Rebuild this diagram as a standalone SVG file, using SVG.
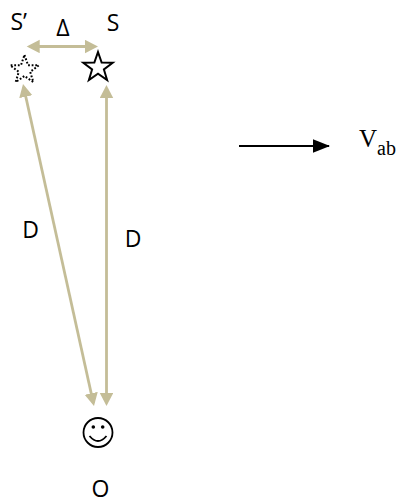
<svg xmlns="http://www.w3.org/2000/svg" width="405" height="501" viewBox="0 0 405 501">
<style>
.lbl{font-family:"Open Sans","Noto Sans","DejaVu Sans",sans-serif;font-size:23px;fill:#000}
.tm{font-family:"Liberation Serif","Times New Roman",serif;fill:#000}
.tan{stroke:#C4BD97;stroke-width:2.8;fill:none}
</style>
<defs>
<marker id="tanHead" markerUnits="userSpaceOnUse" markerWidth="14" markerHeight="14" refX="10" refY="6.7" orient="auto-start-reverse" viewBox="0 0 14 14">
<path d="M0,0 L13,6.7 L0,13.4 z" fill="#C4BD97"/>
</marker>
<marker id="blkHead" markerUnits="userSpaceOnUse" markerWidth="18" markerHeight="14" refX="16" refY="6.7" orient="auto" viewBox="0 0 18 14">
<path d="M0,0 L17,6.7 L0,13.4 z" fill="#000"/>
</marker>
</defs>
<rect width="405" height="501" fill="#fff"/>
<g id="connectors">
<line class="tan" x1="29.7" y1="46.5" x2="95" y2="46.5" marker-start="url(#tanHead)" marker-end="url(#tanHead)"/>
<line class="tan" x1="23.65" y1="86.93" x2="93.35" y2="403.07" marker-start="url(#tanHead)" marker-end="url(#tanHead)"/>
<line class="tan" x1="106.5" y1="88" x2="106.5" y2="403" marker-start="url(#tanHead)" marker-end="url(#tanHead)"/>
<line x1="239" y1="146" x2="329" y2="146" stroke="#000" stroke-width="2" marker-end="url(#blkHead)"/>
</g>
<g id="star-s-prime">
<polygon points="24.5,55 28.03,65.15 38.77,65.36 30.21,71.85 33.32,82.14 24.5,76 15.68,82.14 18.79,71.85 10.23,65.36 20.97,65.15" fill="none" stroke="#000" stroke-width="2" stroke-dasharray="1.8 1.8"/>
<text class="lbl" x="10.5" y="30">S’</text>
</g>
<g id="delta-label">
<text class="lbl" x="63" y="36" text-anchor="middle">Δ</text>
</g>
<g id="star-s">
<polygon points="98,52 101.64,62.48 112.74,62.71 103.9,69.42 107.11,80.04 98,73.7 88.89,80.04 92.1,69.42 83.26,62.71 94.36,62.48" fill="none" stroke="#000" stroke-width="2"/>
<text class="lbl" x="113" y="31" text-anchor="middle">S</text>
</g>
<g id="distance-labels">
<text class="lbl" x="30.5" y="238" text-anchor="middle">D</text>
<text class="lbl" x="133" y="247" text-anchor="middle">D</text>
</g>
<g id="observer">
<circle cx="98" cy="432.5" r="14.5" fill="none" stroke="#000" stroke-width="1.8"/>
<circle cx="93.3" cy="427" r="1.8" fill="#000"/>
<circle cx="102.7" cy="427" r="1.8" fill="#000"/>
<path d="M89.5,436 Q98,446 106.5,436" fill="none" stroke="#000" stroke-width="1.8"/>
<text class="lbl" x="100.5" y="497" text-anchor="middle">O</text>
</g>
<g id="velocity">
<text class="tm" x="359" y="147" font-size="25">V</text>
<text class="tm" x="377" y="155" font-size="20">ab</text>
</g>
</svg>
